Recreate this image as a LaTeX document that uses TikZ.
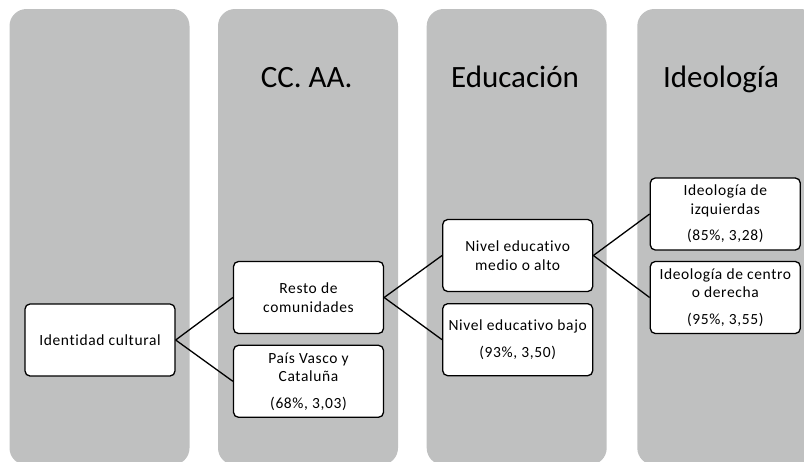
\documentclass[tikz,border=0pt]{standalone}
\usepackage{fontspec}
\setmainfont{Carlito}
\newfontfamily\boxfont[LetterSpace=4,Ligatures=NoCommon]{Carlito}
\begin{document}
\begin{tikzpicture}[x=1pt,y=-1pt]
\definecolor{colgrey}{RGB}{191,192,192}
\tikzset{
  col/.style={fill=colgrey, rounded corners=17pt},
  box/.style={draw=black, line width=1.3pt, fill=white, rounded corners=5pt,
    minimum width=150pt, minimum height=72pt, align=center, inner sep=0pt,
    font=\boxfont\fontsize{15.5}{18.5}\selectfont},
  hdr/.style={anchor=base, font=\fontsize{31}{36}\selectfont},
  link/.style={line width=1.3pt}
}
\useasboundingbox (0,0) rectangle (804,461);
\begin{scope}
  \clip (0,0) rectangle (804,461);
  \fill[col] (9.5,9) rectangle (189.5,465);
  \fill[col] (218,9) rectangle (398,465);
  \fill[col] (426.7,9) rectangle (606.7,465);
  \fill[col] (637.3,9) rectangle (817.3,465);
\end{scope}
\node[hdr] (h2) at (306.7,87) {CC. AA.};
\node[hdr] (h3) at (515,87) {Educación};
\node[hdr] (h4) at (721,87) {Ideología};

\node[box] (ident) at (100,340) {Identidad cultural};
\node[box] (resto) at (308.5,297.5) {Resto de\\comunidades};
\node[box] (pais) at (308.5,381.3) {País Vasco y\\Cataluña\\[8pt](68\%, 3,03)};
\node[box] (nema) at (517.7,255.5) {Nivel educativo\\medio o alto};
\node[box] (neb) at (517.7,339.7) {Nivel educativo bajo\\[8pt](93\%, 3,50)};
\node[box] (izq) at (725.3,214) {Ideología de\\izquierdas\\[8pt](85\%, 3,28)};
\node[box] (centro) at (725.3,297.5) {Ideología de centro\\o derecha\\[8pt](95\%, 3,55)};

\draw[link] (ident.east) -- (resto.west);
\draw[link] (ident.east) -- (pais.west);
\draw[link] (resto.east) -- (nema.west);
\draw[link] (resto.east) -- (neb.west);
\draw[link] (nema.east) -- (izq.west);
\draw[link] (nema.east) -- (centro.west);
\end{tikzpicture}
\end{document}
